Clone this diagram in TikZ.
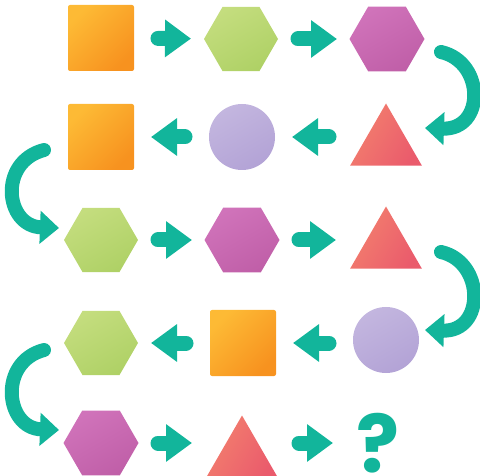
\documentclass[tikz,border=0pt]{standalone}
\usepackage{fontspec}
\setmainfont{Poppins}
\usetikzlibrary{shapes.geometric,arrows.meta}
\definecolor{tealc}{HTML}{12B59B}
\definecolor{orA}{HTML}{FDBA35}
\definecolor{orB}{HTML}{F7921F}
\definecolor{grA}{HTML}{C4DD7E}
\definecolor{grB}{HTML}{AFD166}
\definecolor{puA}{HTML}{D073BA}
\definecolor{puB}{HTML}{C05FA8}
\definecolor{reA}{HTML}{F3806E}
\definecolor{reB}{HTML}{EA5B6C}
\definecolor{laA}{HTML}{C3B6DF}
\definecolor{laB}{HTML}{B3A3D6}
\begin{document}
\begin{tikzpicture}[x=1pt,y=-1pt,
  sqbox/.style={rectangle, minimum size=66pt, inner sep=0pt, rounded corners=2pt,
    top color=orA, bottom color=orB, shading angle=45},
  hexg/.style={regular polygon, regular polygon sides=6, minimum size=74pt, inner sep=0pt,
    top color=grA, bottom color=grB, shading angle=30},
  hexp/.style={regular polygon, regular polygon sides=6, minimum size=75pt, inner sep=0pt,
    top color=puA, bottom color=puB, shading angle=30},
  tribox/.style={regular polygon, regular polygon sides=3, minimum size=83pt, inner sep=0pt,
    top color=reA, bottom color=reB, shading angle=60},
  circbox/.style={circle, minimum size=66pt, inner sep=0pt,
    top color=laA, bottom color=laB, shading angle=30},
  conn/.style={draw=tealc, line width=15pt, line cap=round,
    -{Triangle[width=36pt,length=26pt]}, shorten <=57pt, shorten >=50pt},
  curv/.style={draw=tealc, line width=14pt, line cap=round,
    -{Triangle[width=32pt,length=19pt]}}
]
\useasboundingbox (0,0) rectangle (480,476);
% row 1
\node[sqbox] (sq1) at (101,38) {};
\node[hexg] (hg1) at (241,39) {};
\node[hexp] (hp1) at (387,39) {};
% row 2
\node[sqbox] (sq2) at (101,137) {};
\node[circbox] (ci2) at (242,137) {};
\node[tribox] (tr2) at (386,145) {};
% row 3
\node[hexg] (hg3) at (101,240) {};
\node[hexp] (hp3) at (242,240) {};
\node[tribox] (tr3) at (386,248) {};
% row 4
\node[hexg] (hg4) at (101,343) {};
\node[sqbox] (sq4) at (243,343) {};
\node[circbox] (ci4) at (386,340) {};
% row 5
\node[hexp] (hp5) at (101,443) {};
\node[tribox] (tr5) at (242,457) {};
\node[text=tealc, font=\bfseries\fontsize{80}{80}\selectfont, inner sep=0pt,
  text depth=0pt, anchor=base] (qm) at (378,472) {?};

% straight connectors
\draw[conn] (sq1.center) -- (hg1.center);
\draw[conn] (hg1.center) -- (hp1.center);
\draw[conn] (tr2.center |- ci2.center) -- (ci2.center);
\draw[conn] (ci2.center) -- (sq2.center);
\draw[conn] (hg3.center) -- (hp3.center);
\draw[conn] (hp3.center) -- (tr3.center |- hp3.center);
\draw[conn] (ci4.center |- sq4.center) -- (sq4.center);
\draw[conn] (sq4.center) -- (hg4.center);
\draw[conn] (hp5.center) -- (tr5.center |- hp5.center);
\draw[conn, shorten >=45pt] (tr5.center |- hp5.center) -- (qm.center |- hp5.center);

% curved connectors
\draw[curv] ([shift={(54,13)}]hp1.center) .. controls +(44,10) and +(60,2) .. ([shift={(39,-17)}]tr2.center);
\draw[curv] ([shift={(-57,13)}]sq2.center) .. controls +(-46,12) and +(-54,-2) .. ([shift={(-42,-12)}]hg3.center);
\draw[curv] ([shift={(55,4)}]tr3.center) .. controls +(44,10) and +(60,2) .. ([shift={(39,-10)}]ci4.center);
\draw[curv] ([shift={(-57,7)}]hg4.center) .. controls +(-46,12) and +(-54,-2) .. ([shift={(-42,-13)}]hp5.center);
\end{tikzpicture}
\end{document}
